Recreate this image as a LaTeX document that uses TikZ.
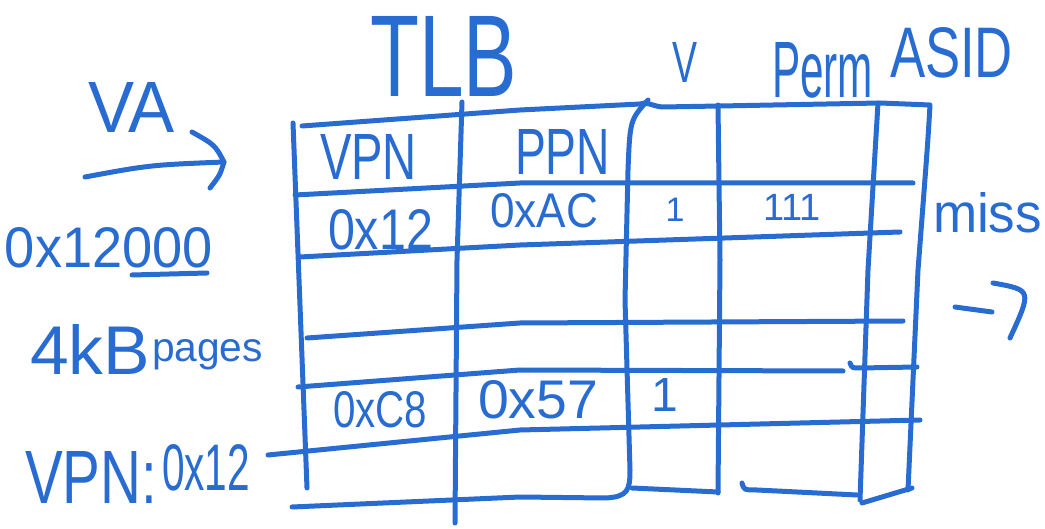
\documentclass[tikz,border=0pt]{standalone}
\usepackage{fontspec}
\setmainfont{Liberation Sans}
\usepackage{graphicx}
\usetikzlibrary{arrows.meta}
\definecolor{ink}{RGB}{40,108,210}
\newcommand{\fitto}[3]{\resizebox{#1pt}{#2pt}{#3}}
\begin{document}
\begin{tikzpicture}[x=1pt,y=-1pt,
  pen/.style={draw=ink,line width=5pt,line cap=round,line join=round},
  lbl/.style={text=ink,inner sep=0pt,outer sep=0pt,anchor=base west},
  num/.style={text=ink,inner sep=0pt,outer sep=0pt}]
\useasboundingbox (0,0) rectangle (1045,529);
% ---- table outline and columns
\draw[pen] (293,123) -- (307,488);
\draw[pen] (302,126) -- (520,110) -- (640,104) .. controls (646,101) and (652,106) .. (662,107) -- (720,106) -- (880,103) -- (930,105)
  .. controls (928,140) .. (918,270) -- (908,490);
\draw[pen] (462,102) -- (457,260) -- (455,523);
\draw[pen] (292,507) -- (520,497) -- (605,498) .. controls (628,497) and (630,490) .. (630,470) -- (625,300) -- (628,170) .. controls (630,120) .. (648,100);
\draw[pen] (718,105) -- (720,260) -- (718,493);
\draw[pen] (632,488) -- (718,492);
\draw[pen] (742,483) .. controls (744,490) .. (757,490) -- (857,495);
\draw[pen] (878,103) -- (868,270) -- (860,500);
\draw[pen] (862,503) -- (912,488);
% ---- rows
\draw[pen] (295,195) -- (520,183) -- (913,183);
\draw[pen] (300,257) -- (520,245) -- (900,232);
\draw[pen] (307,338) -- (520,323) -- (903,321);
\draw[pen] (298,387) -- (520,370) -- (843,371);
\draw[pen] (850,363) .. controls (852,368) .. (860,368) -- (917,367);
% ---- labels
\node[lbl] (tlb) at (370,97) {\fitto{147}{80}{TLB}};
\node[lbl] (v) at (672,83) {\fitto{25}{40}{V}};
\node[lbl] (perm) at (772,98) {\fitto{101}{55}{Perm}};
\node[lbl] (asid) at (890,78) {\fitto{123}{50}{ASID}};
\node[lbl] (miss) at (933,233) {\fitto{109}{40}{miss}};
\node[lbl] (hvpn) at (320,180) {\fitto{97}{45}{VPN}};
\node[lbl] (hppn) at (515,175) {\fitto{95}{45}{PPN}};
\node[lbl] (r1vpn) at (328,250) {\fitto{105}{40}{0x12}};
\node[lbl] (r1ppn) at (490,228) {\fitto{108}{34}{0xAC}};
\node[num,font=\fontsize{34}{34}\selectfont] (r1v) at (675,210) {1};
\node[num,font=\fontsize{38}{38}\selectfont] (r1p) at (792,207) {111};
\node[lbl] (r4vpn) at (333,428) {\fitto{94}{36}{0xC8}};
\node[lbl] (r4ppn) at (478,418) {\fitto{120}{38}{0x57}};
\node[num,font=\fontsize{48}{48}\selectfont] (r4v) at (665,395) {1};
\node[lbl] (va) at (88,133) {\fitto{87}{50}{VA}};
\node[lbl] (addr) at (5,268) {\fitto{208}{40}{0x12000}};
\node[lbl] (kb) at (30,375) {\fitto{120}{50}{4kB}};
\node[lbl] (pages) at (152,362) {\fitto{111}{22}{pages}};
\node[lbl] (vpnlbl) at (25,503) {\fitto{132}{52}{VPN:}};
\node[lbl] (vpnval) at (162,490) {\fitto{88}{46}{0x12}};
% ---- VA arrow
\coordinate (vaS) at (85,177);
\coordinate (vaE) at (224,162);
\draw[pen] (vaS) .. controls (150,165) .. (vaE);
\draw[pen] (192,132) .. controls (215,145) .. (vaE) .. controls (220,175) .. (210,188);
% underline of 000
\draw[pen] (132,275) -- (207,273);
% row 4 line starting at the VPN label
\draw[pen] (268,455) -- (520,430) -- (920,420);
% miss arrow
\draw[pen] (955,307) -- (992,312);
\draw[pen] (993,283) .. controls (1032,290) .. (1010,338);
\end{tikzpicture}
\end{document}
